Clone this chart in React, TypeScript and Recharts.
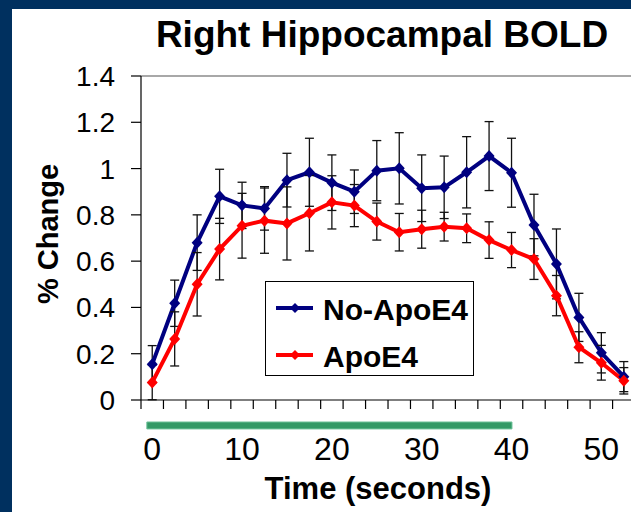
import React from "react";
import { ErrorBar, Legend, Line, LineChart, ReferenceArea, ReferenceLine, XAxis, YAxis } from "recharts";

const FONT = '"Liberation Sans", Arial, sans-serif';

// time points (seconds)
const TIME = [0, 2.5, 5, 7.5, 10, 12.5, 15, 17.5, 20, 22.5, 25, 27.5, 30, 32.5, 35, 37.5, 40, 42.5, 45, 47.5, 50, 52.5];

const NO_APOE4 = [0.155, 0.418, 0.68, 0.88, 0.841, 0.828, 0.95, 0.984, 0.939, 0.9, 0.991, 1.001, 0.915, 0.919, 0.984, 1.054, 0.982, 0.756, 0.588, 0.357, 0.204, 0.101];
const NO_APOE4_ERR = [0.08, 0.1, 0.12, 0.117, 0.1, 0.094, 0.116, 0.147, 0.12, 0.094, 0.13, 0.154, 0.144, 0.135, 0.154, 0.149, 0.149, 0.133, 0.151, 0.104, 0.087, 0.065];

const APOE4 = [0.076, 0.264, 0.5, 0.652, 0.753, 0.775, 0.763, 0.807, 0.854, 0.84, 0.771, 0.725, 0.738, 0.749, 0.742, 0.691, 0.648, 0.609, 0.451, 0.228, 0.161, 0.083];
const APOE4_ERR = [0.075, 0.117, 0.137, 0.133, 0.14, 0.141, 0.158, 0.163, 0.115, 0.091, 0.08, 0.081, 0.082, 0.062, 0.062, 0.079, 0.076, 0.088, 0.087, 0.067, 0.075, 0.057];

const SERIES_ORDER = ["No-ApoE4", "ApoE4"];

const Y_TICKS = [0, 0.2, 0.4, 0.6, 0.8, 1, 1.2, 1.4];
const X_LABELS = [0, 10, 20, 30, 40, 50];
// category boundaries (tick marks sit between the samples)
const X_MARKS = [-1.25, 1.25, 3.75, 6.25, 8.75, 11.25, 13.75, 16.25, 18.75, 21.25, 23.75, 26.25, 28.75, 31.25, 33.75, 36.25, 38.75, 41.25, 43.75, 46.25, 48.75, 51.25];

// stimulus period bar under the axis
const STIM_START = -0.6;
const STIM_END = 40.05;

const data = TIME.map((t, i) => ({
  t,
  noApo: NO_APOE4[i],
  noApoErr: NO_APOE4_ERR[i],
  apo: APOE4[i],
  apoErr: APOE4_ERR[i],
}));

const xTicks = [...X_MARKS, ...X_LABELS].sort((a, b) => a - b);

const diamond = (color: string) => (props: any) => {
  const { cx, cy, index } = props;
  if (cx == null || cy == null) return <g key={index} />;
  return <polygon key={index} points={`${cx},${cy - 6} ${cx + 5.5},${cy} ${cx},${cy + 6} ${cx - 5.5},${cy}`} fill={color} />;
};

const XTick = ({ x, y, payload }: any) => {
  const v = payload.value;
  if (X_LABELS.includes(v)) {
    return (
      <text x={x} y={y + 60} textAnchor="middle" fontSize={32} fontFamily={FONT} fill="#000">
        {v}
      </text>
    );
  }
  return <line x1={x} x2={x} y1={y} y2={y + 9} stroke="#000" strokeWidth={1.2} />;
};

const YLabel = ({ viewBox }: any) => {
  const x = viewBox.x + 48;
  const y = viewBox.y + viewBox.height / 2 - 4;
  return (
    <text x={x} y={y} transform={`rotate(-90 ${x} ${y})`} textAnchor="middle" dominantBaseline="central" fontSize={29} fontWeight="bold" fontFamily={FONT} fill="#000">
      % Change
    </text>
  );
};

const XLabel = ({ viewBox }: any) => (
  <text x={viewBox.x + 237} y={viewBox.y + 99} textAnchor="middle" fontSize={31} fontWeight="bold" fontFamily={FONT} fill="#000">
    Time (seconds)
  </text>
);

const LegendBox = ({ payload }: any) => {
  const items = SERIES_ORDER.map((name) => (payload || []).find((p: any) => p.value === name)).filter(Boolean);
  return (
    <svg width={206} height={92} style={{ display: "block" }}>
      {items.map((entry: any, i: number) => {
        const cy = 26 + i * 47;
        return (
          <g key={entry.value}>
            <line x1={10} x2={47} y1={cy} y2={cy} stroke={entry.color} strokeWidth={4} />
            <polygon points={`29,${cy - 5} 34,${cy} 29,${cy + 5} 24,${cy}`} fill={entry.color} />
            <text x={57} y={cy + 12} fontSize={30} fontWeight="bold" fontFamily={FONT} fill="#000">
              {entry.value}
            </text>
          </g>
        );
      })}
    </svg>
  );
};

export default function App() {
  return (
    <div style={{ position: "fixed", left: 0, top: 0, width: 631, height: 512, background: "#00305f", overflow: "hidden" }}>
      <div style={{ position: "absolute", left: 12, top: 9, right: 0, bottom: 0, background: "#fff" }} />
      <div style={{ position: "absolute", left: 0, top: 0 }}>
        <LineChart width={631} height={512} data={data} margin={{ top: 76, right: 0, bottom: 52, left: 0 }}>
          <XAxis
            dataKey="t"
            type="number"
            domain={[-1.25, 53.3]}
            allowDataOverflow
            ticks={xTicks}
            interval={0}
            tick={<XTick />}
            tickLine={false}
            tickSize={0}
            tickMargin={0}
            height={60}
            axisLine={{ stroke: "#000", strokeWidth: 1.2 }}
            label={<XLabel />}
          />
          <YAxis
            type="number"
            domain={[0, 1.4]}
            allowDataOverflow
            ticks={Y_TICKS}
            interval={0}
            width={141}
            tickSize={10}
            tickMargin={16}
            tick={{ fontSize: 28, fill: "#000", fontFamily: FONT }}
            tickLine={{ stroke: "#000", strokeWidth: 1.2 }}
            axisLine={{ stroke: "#000", strokeWidth: 1.2 }}
            label={<YLabel />}
          />
          <ReferenceLine y={1.4} stroke="#a8a8a8" strokeWidth={2} />
          <ReferenceArea x1={STIM_START} x2={STIM_END} y1={-0.095} y2={-0.125} ifOverflow="visible" fill="#339966" fillOpacity={1} stroke="#6fc29a" strokeWidth={1} />
          <Line dataKey="noApo" name="No-ApoE4" stroke="#000080" strokeWidth={4} dot={diamond("#000080")} isAnimationActive={false}>
            <ErrorBar dataKey="noApoErr" direction="y" width={4.5} stroke="#111" strokeWidth={1.3} />
          </Line>
          <Line dataKey="apo" name="ApoE4" stroke="#ff0000" strokeWidth={4} dot={diamond("#ff0000")} isAnimationActive={false}>
            <ErrorBar dataKey="apoErr" direction="y" width={4.5} stroke="#111" strokeWidth={1.3} />
          </Line>
          <Legend
            layout="vertical"
            align="center"
            verticalAlign="middle"
            content={<LegendBox />}
            wrapperStyle={{ left: 265, top: 281, width: 209, height: 95, border: "1.5px solid #000", background: "#fff", boxSizing: "border-box" }}
          />
        </LineChart>
      </div>
      <div style={{ position: "absolute", left: 132, width: 500, top: 16, textAlign: "center", fontFamily: FONT, fontWeight: "bold", fontSize: 37, lineHeight: 1, color: "#000" }}>
        Right Hippocampal BOLD
      </div>
    </div>
  );
}
